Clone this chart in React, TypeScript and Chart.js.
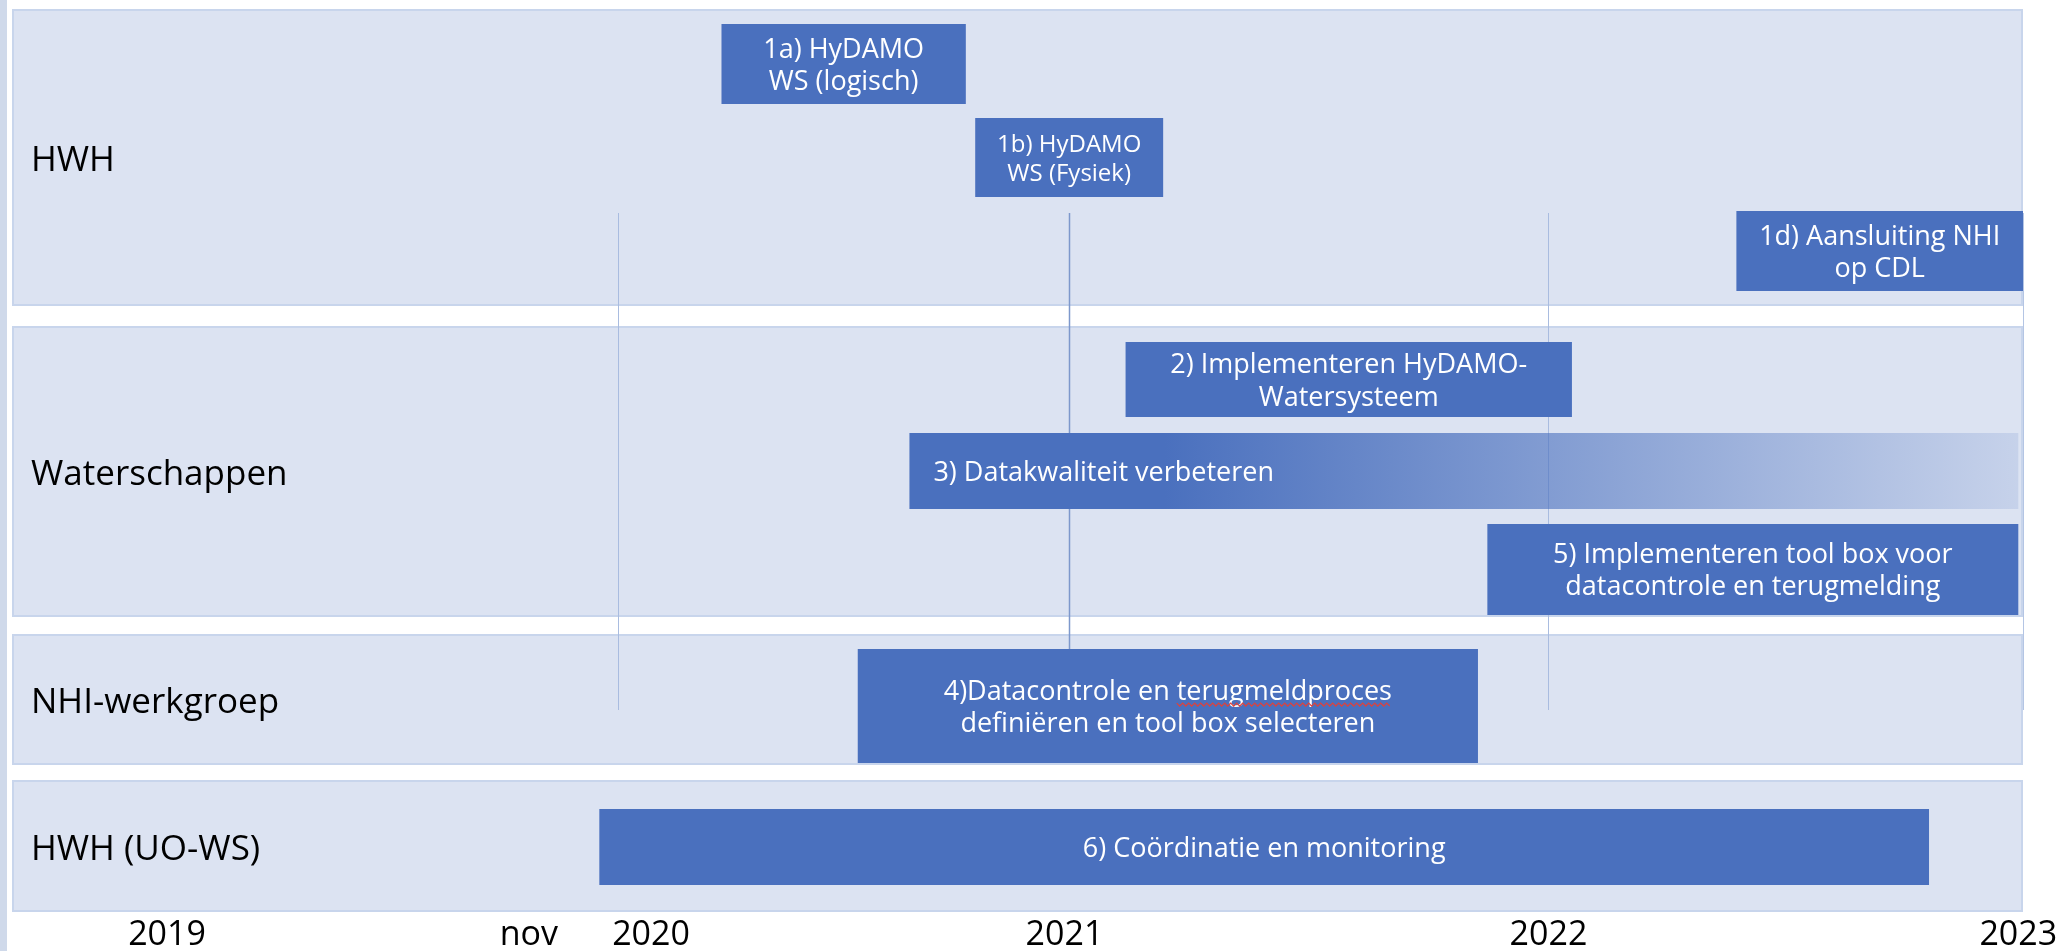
import React, { useEffect, useRef } from "react";
import { Chart, registerables } from "chart.js";

Chart.register(...registerables);

// ---------- data ----------
const laneNames = ["HWH", "Waterschappen", "NHI-werkgroep", "HWH (UO-WS)"];
// lane extents in row units (top, bottom)
const laneRows: number[][] = [
  [0.0, 2.97],
  [3.17, 6.08],
  [6.25, 7.56],
  [7.71, 9.03],
];
const timelineStart = 2018.72;
const timelineEnd = 2023.0;

const taskLabels: string[][] = [
  ["1a) HyDAMO", "WS (logisch)"],
  ["1b) HyDAMO", "WS (Fysiek)"],
  ["1d) Aansluiting NHI", "op CDL"],
  ["2) Implementeren HyDAMO-", "Watersysteem"],
  ["3) Datakwaliteit verbeteren"],
  ["5) Implementeren tool box voor", "datacontrole en terugmelding"],
  ["4)Datacontrole en terugmeldproces", "definiëren en tool box selecteren"],
  ["6) Coördinatie en monitoring"],
];
const taskStart = [2020.23, 2020.77, 2022.39, 2021.09, 2020.63, 2021.86, 2020.52, 2019.97];
const taskEnd = [2020.75, 2021.17, 2023.0, 2022.04, 2022.99, 2022.99, 2021.84, 2022.8];
const taskRowTop = [0.15, 1.09, 2.02, 3.33, 4.24, 5.15, 6.4, 8.0];
const taskRowBottom = [0.95, 1.88, 2.82, 4.08, 5.0, 6.06, 7.54, 8.76];

const yearLineValues = [2020.01, 2020.97, 2021.99, 2023.0];
const yearLineRows = [2.04, 7.01];

const axisTickValues = [2019.05, 2019.82, 2020.08, 2020.96, 2021.99, 2022.99];
const axisTickLabels = ["2019", "nov", "2020", "2021", "2022", "2023"];

// ---------- styles ----------
const FONT = "'Open Sans', 'DejaVu Sans', sans-serif";
const BOX = "#4a70be";
const LANE_FILL = "#dce3f2";
const LANE_EDGE = "#c8d5ec";
const taskStyles = [
  { size: 27, gap: 32 },
  { size: 24, gap: 29 },
  { size: 27, gap: 32 },
  { size: 27, gap: 33 },
  { size: 27, gap: 32, fade: true, left: 24 },
  { size: 27, gap: 32 },
  { size: 27, gap: 32, spell: "terugmeldproces" },
  { size: 27, gap: 32 },
];
const lineStyles = [
  { color: "#a9bce0", width: 1 },
  { color: "#7d98cc", width: 1.5 },
  { color: "#a9bce0", width: 1 },
  { color: "#b4c5e4", width: 1 },
];

const ganttPlugin = {
  id: "gantt",
  beforeDraw(chart: any) {
    const { ctx, scales } = chart;
    const x = scales.x;
    const y = scales.y;
    ctx.save();
    const x0 = x.getPixelForValue(timelineStart);
    const x1 = x.getPixelForValue(timelineEnd);
    laneRows.forEach(([t, b]) => {
      const y0 = y.getPixelForValue(t);
      const y1 = y.getPixelForValue(b);
      ctx.fillStyle = LANE_FILL;
      ctx.fillRect(x0, y0, x1 - x0, y1 - y0);
      ctx.strokeStyle = LANE_EDGE;
      ctx.lineWidth = 2;
      ctx.strokeRect(x0 + 1, y0 + 1, x1 - x0 - 2, y1 - y0 - 2);
    });
    ctx.restore();
  },
  beforeDatasetsDraw(chart: any) {
    const { ctx, scales } = chart;
    const x = scales.x;
    const y = scales.y;
    ctx.save();
    // year lines
    const ly0 = y.getPixelForValue(yearLineRows[0]);
    const ly1 = y.getPixelForValue(yearLineRows[1]);
    yearLineValues.forEach((v, i) => {
      const px = Math.round(x.getPixelForValue(v)) + 0.5;
      ctx.strokeStyle = lineStyles[i].color;
      ctx.lineWidth = lineStyles[i].width;
      ctx.beginPath();
      ctx.moveTo(px, ly0);
      ctx.lineTo(px, ly1);
      ctx.stroke();
    });
    // task boxes
    taskLabels.forEach((lines, i) => {
      const st: any = taskStyles[i];
      const bx0 = x.getPixelForValue(taskStart[i]);
      const bx1 = x.getPixelForValue(taskEnd[i]);
      const by0 = y.getPixelForValue(taskRowTop[i]);
      const by1 = y.getPixelForValue(taskRowBottom[i]);
      if (st.fade) {
        const g = ctx.createLinearGradient(bx0, 0, bx1, 0);
        g.addColorStop(0, "rgba(74,112,190,1)");
        g.addColorStop(0.23, "rgba(74,112,190,1)");
        g.addColorStop(1, "rgba(74,112,190,0.15)");
        ctx.fillStyle = g;
      } else {
        ctx.fillStyle = BOX;
      }
      ctx.fillRect(bx0, by0, bx1 - bx0, by1 - by0);

      ctx.fillStyle = "#ffffff";
      ctx.font = `${st.size}px ${FONT}`;
      ctx.textBaseline = "alphabetic";
      const cx = (bx0 + bx1) / 2;
      const cy = (by0 + by1) / 2;
      lines.forEach((line, j) => {
        const lc = cy + (j - (lines.length - 1) / 2) * st.gap;
        const base = lc + 0.357 * st.size;
        if (st.left !== undefined) {
          ctx.textAlign = "left";
          ctx.fillText(line, bx0 + st.left, base);
        } else {
          ctx.textAlign = "center";
          ctx.fillText(line, cx, base);
        }
        if (st.spell && line.includes(st.spell)) {
          const full = ctx.measureText(line).width;
          const pre = ctx.measureText(line.slice(0, line.indexOf(st.spell))).width;
          const ww = ctx.measureText(st.spell).width;
          const sx = cx - full / 2 + pre;
          const uy = base + 5;
          ctx.strokeStyle = "#e0413a";
          ctx.lineWidth = 1.2;
          ctx.beginPath();
          let k = 0;
          for (let px = sx; px <= sx + ww; px += 3) {
            const py = uy + (k % 2 === 0 ? -1.5 : 1.5);
            if (k === 0) ctx.moveTo(px, py);
            else ctx.lineTo(px, py);
            k++;
          }
          ctx.stroke();
        }
      });
    });
    ctx.restore();
  },
};

export default function App() {
  const ref = useRef<HTMLCanvasElement>(null);
  useEffect(() => {
    document.body.style.margin = "0";
    document.body.style.overflow = "hidden";
    const chart = new Chart(ref.current as HTMLCanvasElement, {
      type: "scatter",
      data: { datasets: [] },
      options: {
        animation: false,
        responsive: false,
        devicePixelRatio: 1,
        layout: { padding: { top: 9, left: 12, right: 49, bottom: 0 } },
        plugins: { legend: { display: false }, tooltip: { enabled: false } },
        scales: {
          x: {
            type: "linear",
            position: "bottom",
            min: timelineStart,
            max: timelineEnd,
            grid: { display: false, drawTicks: false },
            border: { display: false },
            afterBuildTicks: (s: any) => {
              s.ticks = axisTickValues.map((v) => ({ value: v }));
            },
            afterFit: (s: any) => {
              s.height = 39;
              s.paddingLeft = 0;
              s.paddingRight = 0;
            },
            ticks: {
              autoSkip: false,
              maxRotation: 0,
              minRotation: 0,
              padding: 3,
              color: "#000000",
              font: { family: FONT, size: 34 },
              callback: (_v: any, i: number) => axisTickLabels[i],
            },
          },
          y: {
            type: "linear",
            position: "left",
            reverse: true,
            min: 0,
            max: 9.03,
            grid: { display: false, drawTicks: false },
            border: { display: false },
            afterBuildTicks: (s: any) => {
              s.ticks = laneRows.map(([a, b]) => ({ value: (a + b) / 2 }));
            },
            afterFit: (s: any) => {
              s.width = 0;
              s.paddingTop = 0;
              s.paddingBottom = 0;
            },
            ticks: {
              mirror: true,
              padding: 19,
              labelOffset: 4,
              color: "#000000",
              font: { family: FONT, size: 35 },
              callback: (_v: any, i: number) => laneNames[i],
            },
          },
        },
      } as any,
      plugins: [ganttPlugin],
    });
    return () => chart.destroy();
  }, []);
  return (
    <div style={{ position: "relative", width: 2072, height: 951, background: "#ffffff" }}>
      <div style={{ position: "absolute", left: 0, top: 0, width: 7, height: 951, background: "#cfd9ea" }} />
      <canvas
        ref={ref}
        width={2072}
        height={951}
        style={{ position: "absolute", left: 0, top: 0, width: 2072, height: 951 }}
      />
    </div>
  );
}
